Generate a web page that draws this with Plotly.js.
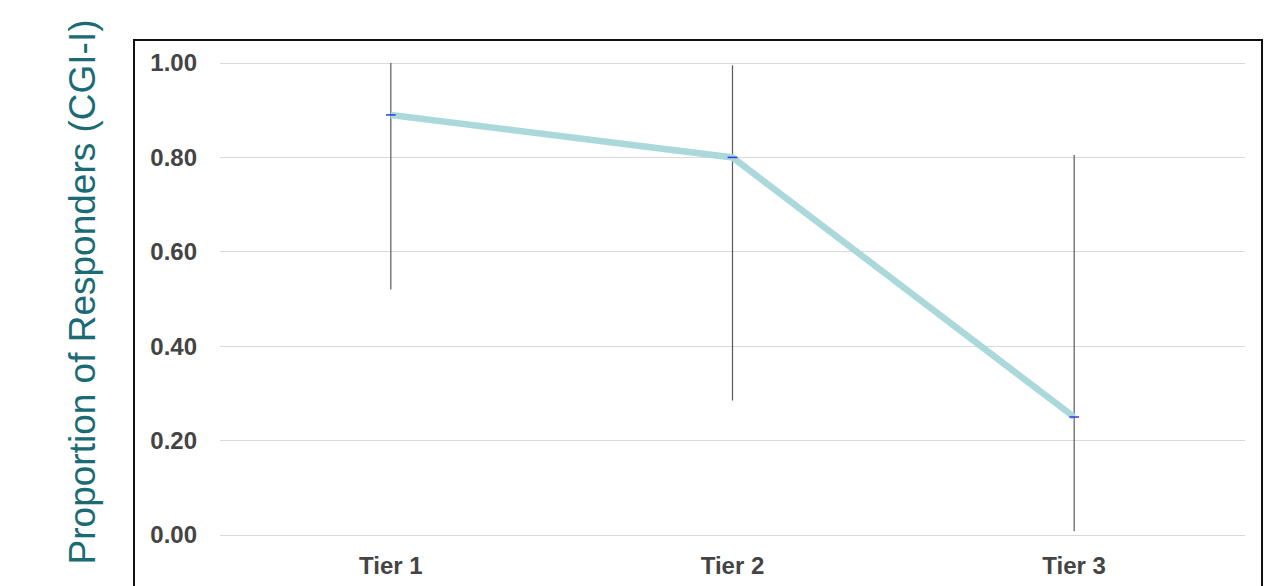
<!DOCTYPE html>
<html><head><meta charset="utf-8">
<script src="https://cdn.plot.ly/plotly-3.0.1.min.js"></script>
<style>html,body{margin:0;padding:0;background:#fff}#c{width:1267px;height:586px}</style>
</head><body><div id="c"></div>
<script>
const categories = ["Tier 1", "Tier 2", "Tier 3"];
const proportion = [0.89, 0.80, 0.25];
const ciUpper = [1.00, 0.995, 0.805];
const ciLower = [0.52, 0.285, 0.008];
const yTicks = [0, 0.2, 0.4, 0.6, 0.8, 1.0];
const yTickText = ["0.00", "0.20", "0.40", "0.60", "0.80", "1.00"];

const trace = {
  x: categories, y: proportion, type: 'scatter', mode: 'lines+markers',
  line: {color: '#aad8db', width: 6.5},
  marker: {symbol: 'line-ew', size: 7, color: '#2b3be0', line: {color: '#2b3be0', width: 1.5}},
  error_y: {type: 'data', symmetric: false,
    array: proportion.map((v, i) => ciUpper[i] - v),
    arrayminus: proportion.map((v, i) => v - ciLower[i]),
    color: '#5a5a5a', thickness: 1.2, width: 0},
  hoverinfo: 'x+y', showlegend: false
};

const tf = {size: 24, color: '#444444', family: 'Liberation Sans, Arial, sans-serif', weight: 'bold'};
const layout = {
  width: 1267, height: 586,
  margin: {l: 220, r: 22, t: 58, b: 46},
  paper_bgcolor: '#fff', plot_bgcolor: '#fff',
  font: {family: 'Liberation Sans, Arial, sans-serif'},
  xaxis: {type: 'category', range: [-0.5, 2.5], showgrid: false, zeroline: false, showline: false,
    tickfont: tf, ticks: '', ticklabelstandoff: 9},
  yaxis: {range: [-0.0106, 1.0106], tickvals: yTicks, ticktext: yTickText, showgrid: true,
    gridcolor: '#d9d9d9', gridwidth: 1, zeroline: false, showline: false, ticks: '',
    tickfont: tf, ticklabelstandoff: 22},
  shapes: [{type: 'rect', xref: 'paper', yref: 'paper', x0: -0.0839, x1: 1.0166, y0: -0.15, y1: 1.0373,
    line: {color: '#111111', width: 2}, fillcolor: 'rgba(0,0,0,0)', layer: 'below'}],
  annotations: [{text: 'Proportion of Responders (CGI-I)', xref: 'paper', yref: 'paper',
    x: -0.134, y: 0.515, textangle: -90, showarrow: false, xanchor: 'center', yanchor: 'middle',
    font: {size: 37, color: '#1b6b75', family: 'Liberation Sans, Arial, sans-serif'}}]
};
Plotly.newPlot('c', [trace], layout, {displayModeBar: false, staticPlot: true});
</script></body></html>
